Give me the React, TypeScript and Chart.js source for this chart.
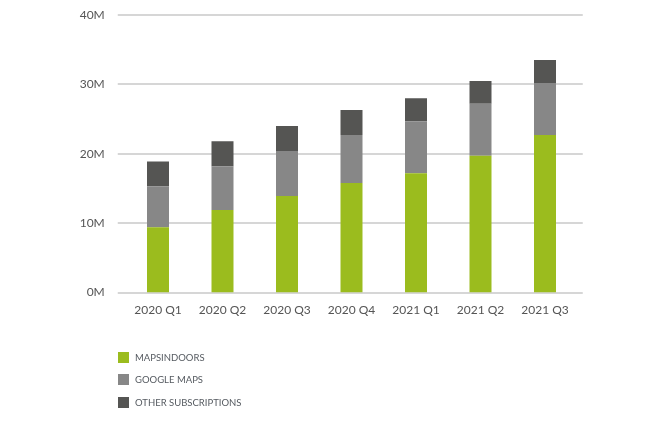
import React, { useEffect, useRef } from "react";
import { Chart, registerables } from "chart.js";

Chart.register(...registerables);

const categories = ["2020 Q1", "2020 Q2", "2020 Q3", "2020 Q4", "2021 Q1", "2021 Q2", "2021 Q3"];
const mapsIndoors = [9.4, 11.9, 13.9, 15.8, 17.2, 19.7, 22.7];
const googleMaps = [5.9, 6.3, 6.5, 6.9, 7.5, 7.5, 7.5];
const otherSubs = [3.6, 3.6, 3.6, 3.6, 3.3, 3.3, 3.3];
const seriesNames = ["MAPSINDOORS", "GOOGLE MAPS", "OTHER SUBSCRIPTIONS"];
const seriesColors = ["#9BBC1E", "#878787", "#555553"];
const yTicks = [0, 10, 20, 30, 40];

const FONT = "Lato, 'Open Sans', sans-serif";

const gridPlugin = {
  id: "extendedGrid",
  beforeDatasetsDraw(chart: any) {
    const { ctx, chartArea, scales } = chart;
    const y = scales.y;
    ctx.save();
    ctx.strokeStyle = "#d6d6d6";
    ctx.lineWidth = 2;
    for (const t of yTicks) {
      const py = Math.round(y.getPixelForValue(t));
      ctx.beginPath();
      ctx.moveTo(chartArea.left - 8, py);
      ctx.lineTo(chartArea.right + 5.5, py);
      ctx.stroke();
    }
    ctx.restore();
  },
};

export default function App() {
  const ref = useRef<HTMLCanvasElement>(null);
  useEffect(() => {
    if (!ref.current) return;
    const data = [mapsIndoors, googleMaps, otherSubs];
    const chart = new Chart(ref.current, {
      type: "bar",
      data: {
        labels: categories,
        datasets: data.map((d, i) => ({
          label: seriesNames[i],
          data: d,
          backgroundColor: seriesColors[i],
          borderWidth: 0,
          categoryPercentage: 1,
          barPercentage: 0.341,
        })),
      },
      plugins: [gridPlugin],
      options: {
        responsive: false,
        animation: false,
        layout: { padding: { top: 15, right: 78.75, left: 0, bottom: 0 } },
        plugins: { legend: { display: false }, tooltip: { enabled: false } },
        scales: {
          x: {
            stacked: true,
            grid: { display: false },
            border: { display: false },
            ticks: { color: "#555555", font: { family: FONT, size: 12 }, padding: 2, maxRotation: 0 },
            afterFit: (s: any) => {
              s.height = 424 - 292.5;
              s.paddingLeft = 0;
              s.paddingRight = 0;
            },
          },
          y: {
            stacked: true,
            min: 0,
            max: 40,
            grid: { display: false },
            border: { display: false },
            afterBuildTicks: (s: any) => { s.ticks = yTicks.map((v) => ({ value: v })); },
            ticks: {
              color: "#555555",
              font: { family: FONT, size: 12 },
              padding: 13,
              callback: (v: any) => `${v}M`,
            },
            afterFit: (s: any) => {
              s.width = 125.75;
              s.paddingTop = 0;
              s.paddingBottom = 0;
            },
          },
        },
      },
    });
    return () => chart.destroy();
  }, []);

  return (
    <div style={{ position: "fixed", left: 0, top: 0, width: 656, height: 424, background: "#fff" }}>
      <canvas ref={ref} width={656} height={424} style={{ position: "absolute", left: 0, top: 0 }} />
      {seriesNames.map((n, i) => (
        <div
          key={n}
          style={{
            position: "absolute",
            left: 118,
            top: [352, 374, 397][i],
            height: 11,
            display: "flex",
            alignItems: "center",
            fontFamily: FONT,
            fontSize: 9.5,
            color: "#555a60",
            whiteSpace: "nowrap",
          }}
        >
          <span style={{ display: "inline-block", width: 11, height: 11, background: seriesColors[i], marginRight: 6 }} />
          <span>{n}</span>
        </div>
      ))}
    </div>
  );
}
